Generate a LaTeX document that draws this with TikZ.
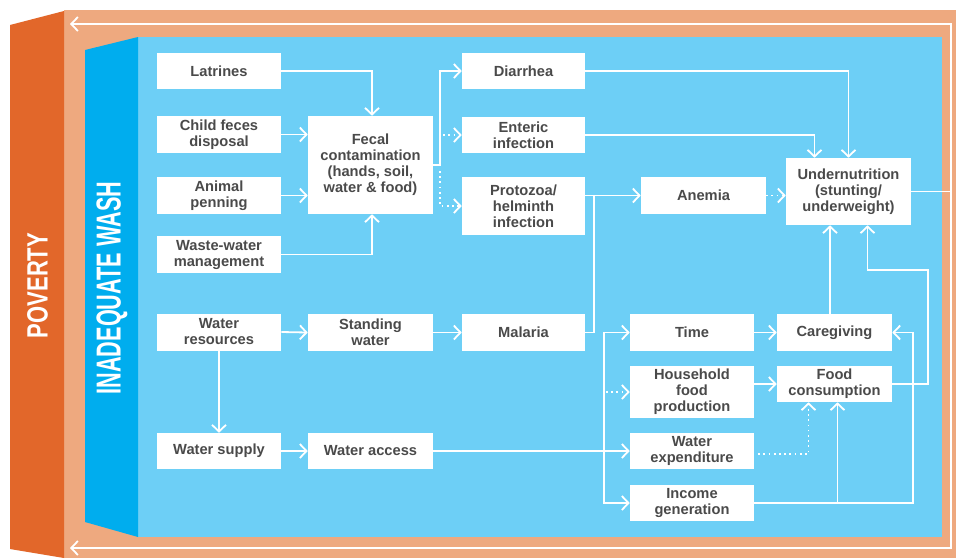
\documentclass[tikz,border=0pt]{standalone}
\usepackage{fontspec}
\usepackage{graphicx}
\setmainfont{Liberation Sans}
\usetikzlibrary{arrows.meta,calc}
\definecolor{orng}{HTML}{E2672A}
\definecolor{peach}{HTML}{EEA97F}
\definecolor{dblue}{HTML}{00ADEE}
\definecolor{lblue}{HTML}{6DCFF6}
\definecolor{txt}{HTML}{4A4A4A}
\begin{document}
\begin{tikzpicture}[x=0.75pt,y=-0.75pt,
  box/.style={fill=white, text=txt, font=\bfseries\fontsize{11}{12}\selectfont, align=center, inner sep=0pt},
  sz/.style 2 args={minimum width=#1*0.75pt, minimum height=#2*0.75pt},
  ln/.style={draw=white, line width=1.35pt},
  arr/.style={ln, -{Straight Barb[length=5pt,width=10.5pt]}},
  dotarr/.style={arr, dash pattern=on 1.3pt off 2.6pt},
  sidelabel/.style={rotate=90, text=white, inner sep=0pt}
]
\useasboundingbox (0,0) rectangle (956,558);
% backgrounds
\fill[white] (0,0) rectangle (956,558);
\fill[peach] (64,10) rectangle (956,558);
\fill[orng] (10,25) -- (64,11) -- (64,558) -- (10,549) -- cycle;
\fill[lblue] (138,37) rectangle (942,537);
\fill[dblue] (85,50) -- (138,37) -- (138,537) -- (85,522) -- cycle;
\node[sidelabel, font=\bfseries\fontsize{22}{22}\selectfont] (pov) at (37.5,285.5) {\scalebox{0.75}[1]{POVERTY}};
\node[sidelabel, font=\bfseries\fontsize{26}{26}\selectfont] (wash) at (112,288) {\scalebox{0.625}[1]{INADEQUATE WASH}};
% loop
\coordinate (lt) at (70,24);
\coordinate (rt) at (951,24);
\coordinate (rb) at (951,548);
\coordinate (lb) at (70,548);
\draw[ln, {Straight Barb[length=5pt,width=10.5pt]}-{Straight Barb[length=5pt,width=10.5pt]}] (lt) -- (rt) -- (rb) -- (lb);
% nodes
\node[box, sz={124}{36}] (latr) at (219,71) {Latrines};
\node[box, sz={124}{37}] (child) at (219,134.5) {Child feces\\disposal};
\node[box, sz={124}{37}] (anim) at (219,195.5) {Animal\\penning};
\node[box, sz={124}{37}] (waste) at (219,254.5) {Waste-water\\management};
\node[box, sz={124}{37}] (wres) at (219,332) {Water\\resources};
\node[box, sz={124}{36}] (wsup) at (219,451) {Water supply};
\node[box, sz={125}{98}] (fecal) at (370.5,165) {Fecal\\contamination\\(hands, soil,\\water \& food)};
\node[box, sz={125}{37}] (stand) at (370.5,332.5) {Standing\\water};
\node[box, sz={125}{36}] (wacc) at (370.5,451) {Water access};
\node[box, sz={123}{36}] (diar) at (523.5,71) {Diarrhea};
\node[box, sz={123}{36}] (enter) at (523.5,135) {Enteric\\infection};
\node[box, sz={123}{58}] (proto) at (523.5,206) {Protozoa/\\helminth\\infection};
\node[box, sz={123}{37}] (mal) at (523.5,332.5) {Malaria};
\node[box, sz={125}{37}] (anem) at (703.5,195.5) {Anemia};
\node[box, sz={124}{37}] (time) at (692,332.5) {Time};
\node[box, sz={124}{52}] (hfp) at (692,392) {Household\\food\\production};
\node[box, sz={124}{36}] (wexp) at (692,451) {Water\\expenditure};
\node[box, sz={124}{36}] (inc) at (692,503) {Income\\generation};
\node[box, sz={125}{67}] (under) at (848.5,191.5) {Undernutrition\\(stunting/\\underweight)};
\node[box, sz={115}{37}] (care) at (834.5,332.5) {Caregiving};
\node[box, sz={115}{36}] (food) at (834.5,384) {Food\\consumption};
% connectors
\draw[arr] (latr.east) -| ($(fecal.north)+(1.5,0)$);
\draw[arr] (child.east) -- (child.east -| fecal.west);
\draw[arr] (anim.east) -- (anim.east -| fecal.west);
\draw[arr] (waste.east) -| ($(fecal.south)+(1.5,0)$);
\coordinate (fj) at ($(fecal.east)+(7,0)$);
\draw[arr] (fecal.east) -- (fj) |- (diar.west);
\draw[dotarr] ($(fj |- enter.west)+(3,0)$) -- (enter.west);
\draw[dotarr] ($(fj)+(0,6)$) |- (proto.west);
\draw[arr] (diar.east) -| (under.north);
\draw[arr] (enter.east) -| ($(under.north)+(-34,0)$);
\draw[arr] (proto.east |- anem.west) -- (anem.west);
\draw[ln] (mal.east) -| ($(proto.east |- anem.west)+(9,0)$);
\draw[dotarr] (anem.east) -- (anem.east -| under.west);
\draw[arr] (wres.east) -- (stand.west);
\draw[arr] (stand.east) -- (mal.west);
\draw[arr] (wres.south) -- (wsup.north);
\draw[arr] (wsup.east) -- (wacc.west);
\draw[arr] (wacc.east) -- (wexp.west);
\coordinate (bus) at (604,451);
\draw[arr] (bus) |- (time.west);
\draw[arr] (bus) |- (inc.west);
\draw[dotarr] ($(bus |- hfp.west)+(2,0)$) -- (hfp.west);
\draw[arr] (time.east) -- (care.west);
\draw[arr] (hfp.east |- food.west) -- (food.west);
\draw[dotarr] ($(wexp.east)+(4,3)$) -| ($(food.south)+(-26,0)$);
\draw[arr] (inc.east) -| ($(food.south)+(3,0)$);
\draw[arr] (inc.east) -| ($(care.east)+(21,0)$) -- (care.east);
\draw[arr] (food.east) -- ++(36,0) |- ($(under.south)+(19,45)$) -- ($(under.south)+(19,0)$);
\draw[arr] ($(care.north)+(-4.5,0)$) coordinate (cn) -- (cn |- under.south);
\draw[ln] (under.east) -- (under.east -| rt);
\end{tikzpicture}
\end{document}
